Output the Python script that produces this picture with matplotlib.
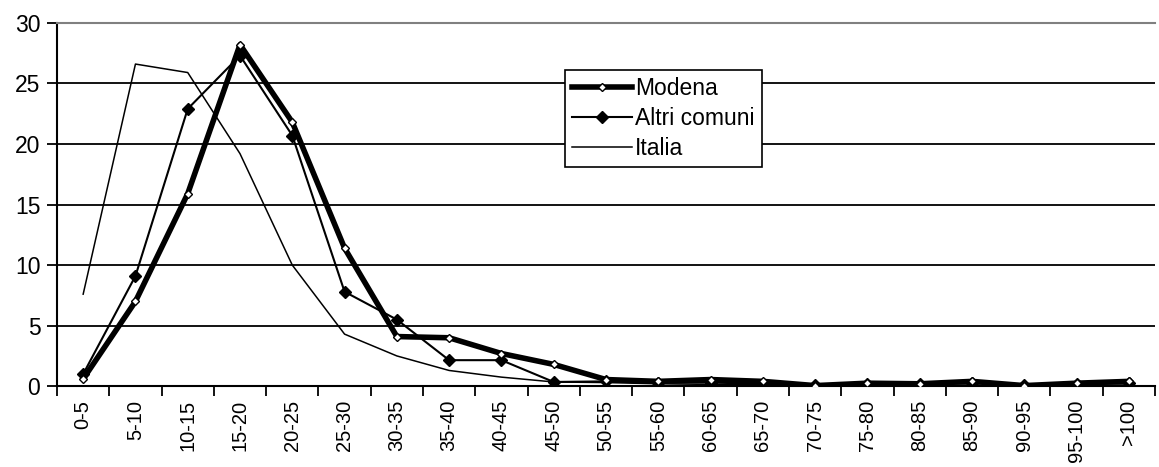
import numpy as np
import matplotlib.pyplot as plt

plt.rcParams['font.family'] = ['Liberation Sans', 'DejaVu Sans']

# Classi
categorie = ['0-5', '5-10', '10-15', '15-20', '20-25', '25-30', '30-35', '35-40',
             '40-45', '45-50', '50-55', '55-60', '60-65', '65-70', '70-75', '75-80',
             '80-85', '85-90', '90-95', '95-100', '>100']

modena = [0.6, 7.0, 15.9, 28.2, 21.8, 11.4, 4.1, 4.0, 2.7, 1.8, 0.55, 0.4,
          0.55, 0.4, 0.05, 0.25, 0.2, 0.4, 0.05, 0.25, 0.4]
altri_comuni = [1.0, 9.1, 22.9, 27.3, 20.7, 7.8, 5.5, 2.15, 2.15, 0.35, 0.4, 0.3,
                0.3, 0.2, 0.1, 0.2, 0.2, 0.3, 0.1, 0.2, 0.3]
italia = [7.6, 26.6, 25.9, 19.2, 10.0, 4.3, 2.5, 1.3, 0.75, 0.35, 0.3, 0.2,
          0.15, 0.15, 0.1, 0.1, 0.1, 0.1, 0.05, 0.1, 0.1]

x = np.arange(len(categorie))

fig = plt.figure(figsize=(11.59, 4.67), dpi=100)
ax = fig.add_axes([0.0492, 0.173, 0.9473, 0.778])

# griglia orizzontale
for y in [5, 10, 15, 20, 25]:
    ax.axhline(y, color='black', lw=1.3, zorder=1)

ax.plot(x, modena, color='black', lw=4, marker='D', markersize=4.5,
        markerfacecolor='white', markeredgecolor='black', markeredgewidth=1,
        label='Modena', zorder=4)
ax.plot(x, altri_comuni, color='black', lw=1.5, marker='D', markersize=6,
        markerfacecolor='black', label='Altri comuni', zorder=3)
ax.plot(x, italia, color='black', lw=1.1, label='Italia', zorder=2)

ax.set_xlim(-0.5, len(categorie) - 0.5)
ax.set_ylim(0, 30)
ax.set_yticks([0, 5, 10, 15, 20, 25, 30])
ax.tick_params(axis='y', labelsize=16.5, length=7, width=1.3, direction='out', pad=5)

ax.set_xticks(np.arange(-0.5, len(categorie), 1))
ax.set_xticklabels([])
ax.set_xticks(x, minor=True)
ax.set_xticklabels(categorie, minor=True, rotation=90, fontsize=14.5)
ax.tick_params(axis='x', which='major', length=7, width=1.3, direction='out')
ax.tick_params(axis='x', which='minor', length=0, pad=10)

ax.spines['right'].set_visible(False)
ax.spines['top'].set_color('#808080')
ax.spines['top'].set_linewidth(1.5)
ax.spines['left'].set_linewidth(1.5)
ax.spines['bottom'].set_linewidth(1.5)

leg = ax.legend(loc='upper left', bbox_to_anchor=(0.463, 0.87), fontsize=16.5,
                frameon=True, fancybox=False, handlelength=2.6,
                borderpad=0.3, labelspacing=0.3, handletextpad=0.15,
                borderaxespad=0)
leg.get_frame().set_edgecolor('black')
leg.get_frame().set_linewidth(1.2)
leg.get_frame().set_alpha(1)

plt.savefig('out.png', dpi=100)
